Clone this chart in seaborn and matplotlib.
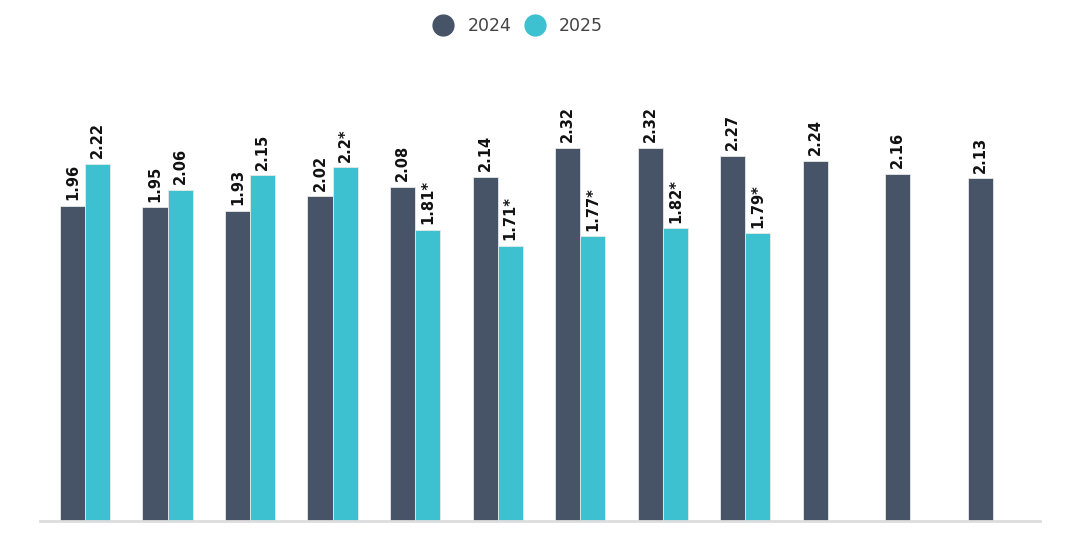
import matplotlib
matplotlib.use("Agg")
import matplotlib.pyplot as plt
from matplotlib.lines import Line2D
import seaborn as sns
import pandas as pd

months = ["1", "2", "3", "4", "5", "6", "7", "8", "9", "10", "11", "12"]
values_2024 = [1.96, 1.95, 1.93, 2.02, 2.08, 2.14, 2.32, 2.32, 2.27, 2.24, 2.16, 2.13]
values_2025 = [2.22, 2.06, 2.15, 2.2, 1.81, 1.71, 1.77, 1.82, 1.79]
labels_2024 = ["1.96", "1.95", "1.93", "2.02", "2.08", "2.14", "2.32", "2.32", "2.27", "2.24", "2.16", "2.13"]
labels_2025 = ["2.22", "2.06", "2.15", "2.2*", "1.81*", "1.71*", "1.77*", "1.82*", "1.79*"]

dark = "#475467"
teal = "#3dc0cf"

rows = [(m, "2024", v) for m, v in zip(months, values_2024)]
rows += [(m, "2025", v) for m, v in zip(months, values_2025)]
df = pd.DataFrame(rows, columns=["month", "year", "value"])

sns.set_style("white")
plt.rcParams["font.family"] = ["DejaVu Sans"]

fig = plt.figure(figsize=(10.68, 5.34), dpi=100)
ax = fig.add_axes([40 / 1068, 13 / 534, 1000 / 1068, 482.4 / 534])

sns.barplot(
    data=df, x="month", y="value", hue="year",
    order=months, hue_order=["2024", "2025"],
    palette={"2024": dark, "2025": teal}, saturation=1,
    width=0.61, errorbar=None, edgecolor="#e8e8e8", linewidth=0.6,
    ax=ax, legend=False,
)

for cont, labs in zip(ax.containers, [labels_2024, labels_2025]):
    ax.bar_label(cont, labels=labs[:len(cont)], rotation=90, padding=4,
                 fontsize=10.5, fontweight="bold", color="#111111")

ax.set_xlim(-0.545, 11.57)
ax.set_ylim(0, 3.0)
ax.set_xlabel("")
ax.set_ylabel("")
ax.set_yticks([])
ax.set_xticklabels([])
ax.tick_params(axis="x", length=0)
for s in ["top", "right", "left"]:
    ax.spines[s].set_visible(False)
ax.spines["bottom"].set_color("#dddddd")
ax.spines["bottom"].set_linewidth(2)

handles = [
    Line2D([0], [0], marker="o", color="none", markerfacecolor=dark, markeredgecolor=dark, markersize=15),
    Line2D([0], [0], marker="o", color="none", markerfacecolor=teal, markeredgecolor=teal, markersize=15),
]
fig.legend(handles, ["2024", "2025"], loc="center", bbox_to_anchor=(0.4815, 0.952),
           ncol=2, frameon=False, fontsize=12.5, handletextpad=0.4, columnspacing=0.35,
           labelcolor="#444444")

fig.savefig("out.png", dpi=100)
